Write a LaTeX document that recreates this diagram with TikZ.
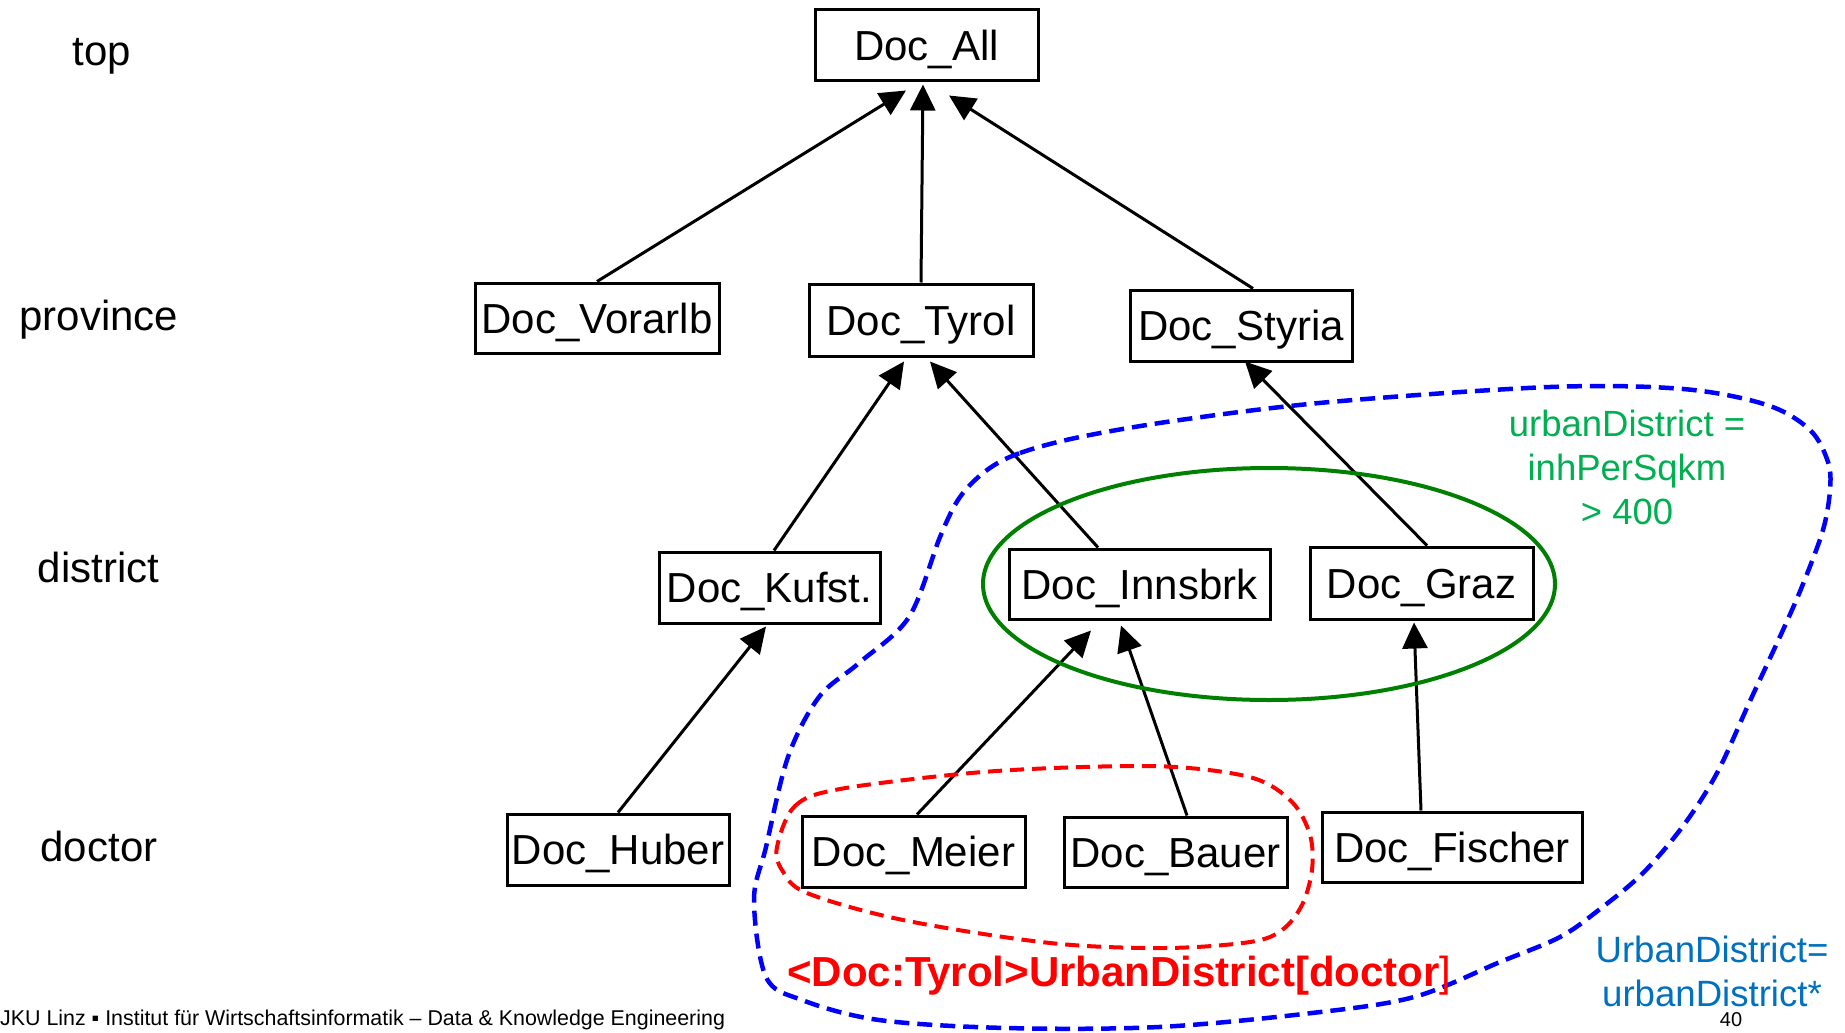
\documentclass[tikz,border=0pt]{standalone}
\usepackage{fontspec}
\setmainfont{Liberation Sans}
\usetikzlibrary{arrows.meta}
\definecolor{greenline}{RGB}{0,128,0}
\definecolor{greentext}{RGB}{0,176,80}
\definecolor{bluetext}{RGB}{0,112,192}
\definecolor{bluedash}{RGB}{0,0,255}
\definecolor{reddash}{RGB}{255,0,0}
\tikzset{
  docbox/.style={draw, line width=3pt, inner sep=0pt,
    font=\fontsize{42}{50}\selectfont, text height=30pt, text depth=0pt},
  levellabel/.style={anchor=base, inner sep=0pt, font=\fontsize{42}{50}\selectfont},
  isa/.style={line width=3pt, -{Triangle[length=26pt,width=25pt]}},
}
\begin{document}
\begin{tikzpicture}[x=1pt,y=-1pt]
\useasboundingbox (0,0) rectangle (1845,1033);

% level names
\node[levellabel] (ltop)  at (102,66)  {top};
\node[levellabel] (lprov) at (99,330)  {province};
\node[levellabel] (ldist) at (98.5,582) {district};
\node[levellabel] (ldoc)  at (99,861)  {doctor};

% hierarchy of doctor members
\node[docbox, minimum width=223pt, minimum height=71pt] (all) at (926.5,45.5) {Doc\_All};

\node[docbox, minimum width=244pt, minimum height=70pt] (vor) at (597,318) {Doc\_Vorarlb};
\node[docbox, minimum width=224pt, minimum height=72pt] (tyr) at (921,320) {Doc\_Tyrol};
\node[docbox, minimum width=222pt, minimum height=71pt] (sty) at (1241,325.5) {Doc\_Styria};

\node[docbox, minimum width=221pt, minimum height=71pt] (kuf) at (769.5,587.5) {Doc\_Kufst.};
\node[docbox, minimum width=261pt, minimum height=70pt] (inn) at (1139.5,584) {Doc\_Innsbrk};
\node[docbox, minimum width=223pt, minimum height=72pt] (graz) at (1421.5,583) {Doc\_Graz};

\node[docbox, minimum width=222pt, minimum height=71pt] (hub) at (618,849.5) {Doc\_Huber};
\node[docbox, minimum width=223pt, minimum height=71pt] (mei) at (913.5,851.5) {Doc\_Meier};
\node[docbox, minimum width=223pt, minimum height=70pt] (bau) at (1175.5,852) {Doc\_Bauer};
\node[docbox, minimum width=260pt, minimum height=70pt] (fis) at (1452,847) {Doc\_Fischer};

% roll-up edges
\draw[isa] (vor.north) -- ([xshift=-20.5pt,yshift=-8pt]all.south);
\draw[isa] (tyr.north) -- ([xshift=-3.5pt,yshift=-2pt]all.south);
\draw[isa] ([xshift=12pt]sty.north) -- ([xshift=22.5pt,yshift=-13pt]all.south);

\draw[isa] ([xshift=4.5pt]kuf.north) -- ([xshift=-17pt,yshift=-4pt]tyr.south);
\draw[isa] ([xshift=-41.5pt]inn.north) -- ([xshift=9pt,yshift=-4pt]tyr.south);
\draw[isa] ([xshift=5.5pt]graz.north) -- ([xshift=4pt,yshift=1pt]sty.south);

\draw[isa] (hub.north) -- ([xshift=-3.5pt,yshift=-2pt]kuf.south);
\draw[isa] ([xshift=3.5pt]mei.north) -- ([xshift=-48.5pt,yshift=-10pt]inn.south);
\draw[isa] ([xshift=11.5pt]bau.north) -- ([xshift=-18.5pt,yshift=-5pt]inn.south);
\draw[isa] ([xshift=-31pt]fis.north) -- ([xshift=-7.5pt,yshift=-2pt]graz.south);

% urban districts
\draw[greenline, line width=4pt] (1269,584) ellipse [x radius=286pt, y radius=116pt];

% closure of urbanDistrict (blue)
\draw[bluedash, line width=4.5pt, dash pattern=on 15pt off 8pt]
  plot[smooth cycle, tension=0.55] coordinates {
    (987,470) (1020,453) (1080,437) (1180,420) (1330,402) (1550,387)
    (1683,389) (1767,405) (1810,430) (1828,462) (1830,490) (1823,530)
    (1803,584) (1783,630) (1750,701) (1717,773) (1683,826) (1643,873)
    (1600,909) (1560,937) (1500,962) (1414,997) (1312,1013) (1159,1027)
    (1006,1028) (879,1020) (802,1000) (766,977) (754,900) (766,847)
    (788,757) (819,697) (859,663) (909,617) (940,537) (960,497)};

% doctors of urban districts in Tyrol (red)
\draw[reddash, line width=4pt, dash pattern=on 14pt off 8pt]
  plot[smooth cycle, tension=0.55] coordinates {
    (777,847) (795,806) (840,789) (971,773) (1083,767) (1176,767)
    (1253,778) (1292,802) (1310,835) (1312,870) (1302,905) (1282,930)
    (1250,942) (1165,948) (1050,943) (903,920) (807,893) (782,870)};

% annotations
\node[greentext, align=center, anchor=base, inner sep=0pt,
      font=\fontsize{36.5}{44}\selectfont] (gdef) at (1627,524)
  {urbanDistrict =\\inhPerSqkm\\> 400};
\node[reddash, anchor=base west, inner sep=0pt,
      font=\fontsize{42}{50}\selectfont\bfseries] (rdef) at (787,986)
  {<Doc:Tyrol>UrbanDistrict[doctor{\mdseries]}};
\node[bluetext, align=center, anchor=base, inner sep=0pt,
      font=\fontsize{36.6}{44}\selectfont] (bdef) at (1712,1006)
  {UrbanDistrict=\\urbanDistrict*};

% slide footer
\node[anchor=base west, inner sep=0pt, font=\fontsize{21.4}{25}\selectfont] (foot) at (0,1025)
  {JKU Linz ▪ Institut für Wirtschaftsinformatik – Data \& Knowledge Engineering};
\node[anchor=base, inner sep=0pt, font=\fontsize{20}{24}\selectfont] (pgno) at (1731,1026) {40};
\end{tikzpicture}
\end{document}
